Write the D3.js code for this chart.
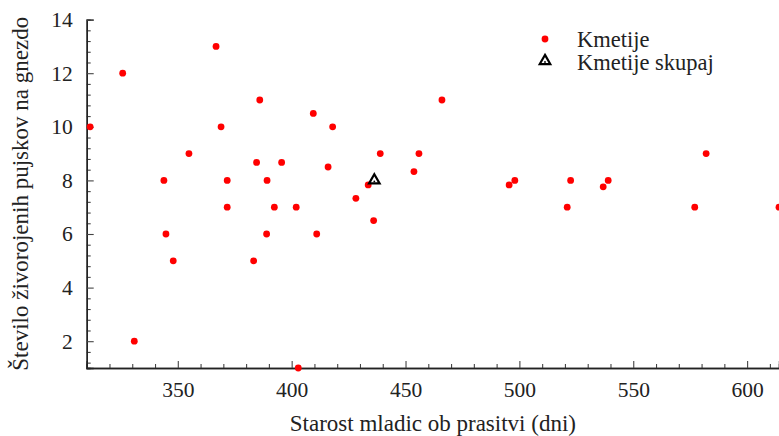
<!DOCTYPE html>
<html>
<head>
<meta charset="utf-8">
<script src="https://cdn.jsdelivr.net/npm/d3@7"></script>
<style>
  body { margin: 0; background: #fff; }
</style>
</head>
<body>
<div id="chart"></div>
<script>
// starost mladic ob prasitvi (dni) and stevilo zivorojenih pujskov
const ageDays = [311.5, 325.8, 330.9, 343.9, 344.8, 348, 354.9, 366.8, 369, 371.7,
    371.7, 383.3, 384.6, 386, 389.2, 389, 392.4, 395.6, 402, 402.9,
    409.5, 411, 416, 418, 428.2, 433.6, 436, 438.9, 453.7, 455.9,
    466, 495.5, 498, 521, 522.5, 536.8, 539, 577, 582, 614];
const pigletCount = [10, 12, 2, 8, 6, 5, 9, 13, 10, 8,
    7, 5, 8.67, 11, 8, 6, 7, 8.67, 7, 1,
    10.5, 6, 8.5, 10, 7.33, 7.83, 6.5, 9, 8.33, 9,
    11, 7.83, 8, 7, 8, 7.76, 8, 7, 9, 7];
// Kmetije skupaj (average)
const totalAge = [436.3];
const totalCount = [8];

const xMajorTicks = [350, 400, 450, 500, 550, 600];
const yMajorTicks = [2, 4, 6, 8, 10, 12, 14];
const legendLabels = ["Kmetije", "Kmetije skupaj"];

const width = 779;
const height = 436;
const margin = {top: 19.6, left: 86.7, right: 0, bottom: 68};
const serif = "'Liberation Serif', 'Times New Roman', Times, 'DejaVu Serif', serif";

const svg = d3.select("#chart").append("svg")
    .attr("width", width)
    .attr("height", height)
    .attr("font-family", serif);

const x = d3.scaleLinear()
    .domain([310, 614])
    .range([margin.left, width - margin.right]);

const y = d3.scaleLinear()
    .domain([1, 14])
    .range([height - margin.bottom, margin.top]);

// minor ticks
const xMinor = d3.range(320, 614, 10).filter(v => v % 50 !== 0);
const yMinor = d3.range(1.2, 14, 0.4).filter(v => Math.abs(v / 2 - Math.round(v / 2)) > 0.01);

const xAxisG = svg.append("g")
    .attr("transform", `translate(0,${y(1)})`);
xAxisG.append("g")
    .call(d3.axisBottom(x).tickValues(xMinor).tickSize(-4).tickFormat(""))
xAxisG.append("g")
    .call(d3.axisBottom(x).tickValues(xMajorTicks).tickSize(-7).tickPadding(14))

const yAxisG = svg.append("g")
    .attr("transform", `translate(${x(310)},0)`);
yAxisG.append("g")
    .call(d3.axisLeft(y).tickValues(yMinor).tickSize(-4).tickFormat(""))
yAxisG.append("g")
    .call(d3.axisLeft(y).tickValues(yMajorTicks).tickSize(-7).tickPadding(14))

svg.selectAll("g").attr("font-family", serif);
svg.selectAll(".domain").attr("stroke", "#222").attr("stroke-width", 1.4);
svg.selectAll(".tick line").attr("stroke", "#444").attr("stroke-width", 1.1);
svg.selectAll(".tick text")
    .attr("font-size", 21.5)
    .attr("fill", "#222");

// axis titles
svg.append("text")
    .attr("x", (x.range()[0] + x.range()[1]) / 2)
    .attr("y", 430.5)
    .attr("text-anchor", "middle")
    .attr("font-size", 23)
    .attr("fill", "#222")
    .text("Starost mladic ob prasitvi (dni)");

svg.append("text")
    .attr("transform", `translate(28,${(y(1) + y(14)) / 2}) rotate(-90)`)
    .attr("text-anchor", "middle")
    .attr("font-size", 23)
    .attr("fill", "#222")
    .text("Število živorojenih pujskov na gnezdo");

const pts = ageDays.map((d, i) => ({x: d, y: pigletCount[i]}));

svg.append("g")
    .selectAll("circle")
    .data(pts)
    .enter()
    .append("circle")
    .attr("cx", d => x(d.x))
    .attr("cy", d => y(d.y))
    .attr("r", 3.4)
    .attr("fill", "#ff0000");

const tri = d3.symbol().type(d3.symbolTriangle).size(48);

function drawTriangle(g, cx, cy) {
    g.append("path")
        .attr("d", tri())
        .attr("transform", `translate(${cx},${cy})`)
        .attr("fill", "#fff")
        .attr("stroke", "#000")
        .attr("stroke-width", 2.2);
    g.append("circle")
        .attr("cx", cx)
        .attr("cy", cy + 1)
        .attr("r", 0.9)
        .attr("fill", "#000");
}

const totG = svg.append("g");
totalAge.forEach((d, i) => drawTriangle(totG, x(d), y(totalCount[i])));

// legend
const legend = svg.append("g");
legend.append("circle")
    .attr("cx", 545).attr("cy", 39).attr("r", 3.4).attr("fill", "#ff0000");
drawTriangle(legend, 545, 61);
legend.selectAll("text")
    .data(legendLabels)
    .enter()
    .append("text")
    .attr("x", 577)
    .attr("y", (d, i) => 46.5 + i * 23.5)
    .attr("font-size", 22.5)
    .attr("fill", "#222")
    .text(d => d);
</script>
</body>
</html>
